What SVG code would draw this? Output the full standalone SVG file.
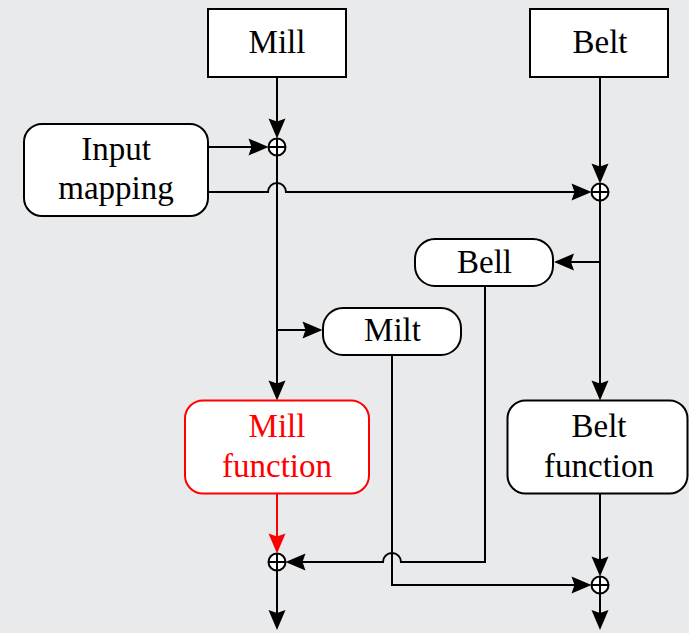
<svg xmlns="http://www.w3.org/2000/svg" width="689" height="633" viewBox="0 0 689 633">
  <style>
    .box { fill: #ffffff; stroke: #000000; stroke-width: 2; }
    .hot { fill: #ffffff; stroke: #ff0000; stroke-width: 2; }
    .lbl { font-family: "Liberation Serif", "Times New Roman", serif; font-size: 33px; fill: #000000; text-anchor: middle; }
    .lbl-hot { fill: #ff0000; }
    .wire { fill: none; stroke: #000000; stroke-width: 2; }
    .wire-hot { fill: none; stroke: #ff0000; stroke-width: 2; }
    .sum circle { fill: #ffffff; stroke: #000000; stroke-width: 2; }
    .sum path { fill: none; stroke: #000000; stroke-width: 2; }
  </style>
  <defs>
    <marker id="arrow" markerUnits="userSpaceOnUse" markerWidth="22" markerHeight="20" refX="16" refY="9" orient="auto" overflow="visible">
      <path d="M0,0.5 L20,9 L0,17.5 L3,9 Z" fill="#000000"/>
    </marker>
    <marker id="arrow-hot" markerUnits="userSpaceOnUse" markerWidth="22" markerHeight="20" refX="16" refY="9" orient="auto" overflow="visible">
      <path d="M0,0.5 L20,9 L0,17.5 L3,9 Z" fill="#ff0000"/>
    </marker>
    <g id="sumjunction" class="sum">
      <circle cx="0" cy="0" r="8.5"/>
      <path d="M-8.5,0 H8.5 M0,-8.5 V8.5"/>
    </g>
  </defs>

  <rect width="689" height="633" fill="#e9eaec"/>

  <!-- signal wiring -->
  <g id="connectors">
    <path class="wire" d="M277,78 V134.5" marker-end="url(#arrow)"/>
    <path class="wire" d="M209,147 H264.5" marker-end="url(#arrow)"/>
    <path class="wire" d="M209,192 H268 A9,9 0 0 1 286,192 H587.5" marker-end="url(#arrow)"/>
    <path class="wire" d="M277,155.5 V396.5" marker-end="url(#arrow)"/>
    <path class="wire" d="M277,330 H318.5" marker-end="url(#arrow)"/>
    <path class="wire" d="M600,78 V179.5" marker-end="url(#arrow)"/>
    <path class="wire" d="M600,200.5 V396.5" marker-end="url(#arrow)"/>
    <path class="wire" d="M600,262 H558" marker-end="url(#arrow)"/>
    <path class="wire" d="M485,286 V562 H401 A9,9 0 0 0 383,562 H289.5" marker-end="url(#arrow)"/>
    <path class="wire" d="M392,355 V585 H587.5" marker-end="url(#arrow)"/>
    <path class="wire-hot" d="M277,493.5 V549.5" marker-end="url(#arrow-hot)"/>
    <path class="wire" d="M600,493.5 V572.5" marker-end="url(#arrow)"/>
    <path class="wire" d="M277,570.5 V626" marker-end="url(#arrow)"/>
    <path class="wire" d="M600,593.5 V626" marker-end="url(#arrow)"/>
  </g>

  <!-- summing junctions -->
  <use id="sum-mill-in" href="#sumjunction" x="277" y="147"/>
  <use id="sum-belt-in" href="#sumjunction" x="600" y="192"/>
  <use id="sum-mill-out" href="#sumjunction" x="277" y="562"/>
  <use id="sum-belt-out" href="#sumjunction" x="600" y="585"/>

  <g id="mill">
    <rect class="box" x="208" y="9" width="138" height="68"/>
    <text class="lbl" x="277" y="52.5">Mill</text>
  </g>
  <g id="belt">
    <rect class="box" x="530" y="9" width="138" height="68"/>
    <text class="lbl" x="600" y="52.5">Belt</text>
  </g>
  <g id="input-mapping">
    <rect class="box" x="24" y="124" width="184" height="92" rx="18"/>
    <text class="lbl" x="116" y="159.5">Input</text>
    <text class="lbl" x="116" y="198.5">mapping</text>
  </g>
  <g id="bell">
    <rect class="box" x="415" y="239" width="138" height="47" rx="20"/>
    <text class="lbl" x="484.5" y="272.5">Bell</text>
  </g>
  <g id="milt">
    <rect class="box" x="323" y="308" width="138" height="47" rx="20"/>
    <text class="lbl" x="392.5" y="341">Milt</text>
  </g>
  <g id="mill-function">
    <rect class="hot" x="185" y="400.5" width="184" height="93" rx="18"/>
    <text class="lbl lbl-hot" x="277" y="437">Mill</text>
    <text class="lbl lbl-hot" x="277" y="476.5">function</text>
  </g>
  <g id="belt-function">
    <rect class="box" x="507.5" y="400.5" width="180" height="93" rx="18"/>
    <text class="lbl" x="599" y="437">Belt</text>
    <text class="lbl" x="599" y="476.5">function</text>
  </g>
</svg>
